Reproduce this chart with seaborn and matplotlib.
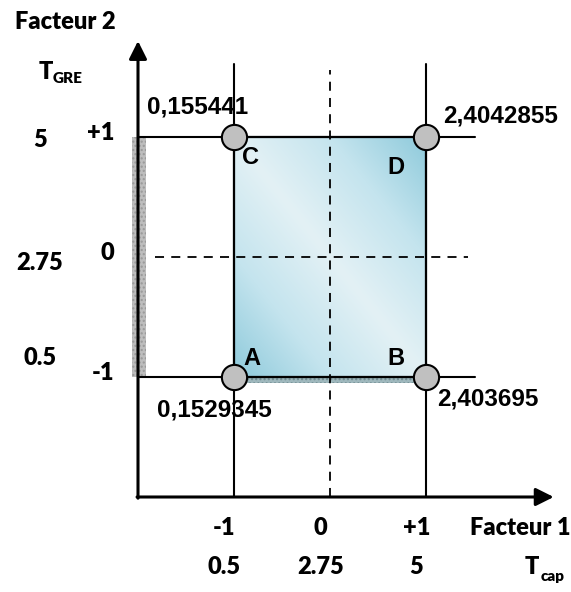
import numpy as np
import matplotlib
matplotlib.use("Agg")
import matplotlib.pyplot as plt
import seaborn as sns
import pandas as pd
from matplotlib.colors import LinearSegmentedColormap
from matplotlib.patches import Rectangle

# corner points of the 2^2 design
corner_labels = ["A", "B", "C", "D"]
factor1 = [-1, 1, -1, 1]
factor2 = [-1, -1, 1, 1]
responses = ["0,1529345", "2,403695", "0,155441", "2,4042855"]

# axis levels
coded_levels = [-1, 0, 1]
coded_labels = ["-1", "0", "+1"]
tcap_labels = ["0.5", "2.75", "5"]
tgre_labels = ["0.5", "2.75", "5"]

sns.set_theme(style="white")
plt.rcParams['font.family'] = ['Liberation Sans', 'DejaVu Sans']
plt.rcParams['text.color'] = 'black'

fig = plt.figure(figsize=(5.71, 5.92), dpi=100)
ax = fig.add_axes([0, 0, 1, 1])
ax.set_xlim(-3.4375, 2.5104)
ax.set_ylim(-2.7917, 2.1417)
ax.axis("off")

# gradient fill of the experimental domain (dark at A and D)
u, v = np.meshgrid(np.linspace(-1, 1, 200), np.linspace(-1, 1, 200))
shade = np.abs(u + v) / 2
cmap = LinearSegmentedColormap.from_list("dom", ["#e3f1f5", "#c4e4ee", "#8ecadb"])
ax.imshow(shade, extent=(-1, 1, -1, 1), origin="lower", cmap=cmap,
          aspect="auto", zorder=1, interpolation="bilinear")

# grey hatched bands
ax.add_patch(Rectangle((-2.0625, -1), 0.145, 2, facecolor="#bdbdbd",
                       edgecolor="#999999", hatch="....", lw=0, zorder=2))
ax.add_patch(Rectangle((-1, -1.05), 2, 0.05, facecolor="#9fb8bd",
                       edgecolor="#6f8a90", hatch="....", lw=0, zorder=2))

# domain border
ax.add_patch(Rectangle((-1, -1), 2, 2, fill=False, edgecolor="#1a2a30",
                       lw=1.6, zorder=3))

# level lines
for lv in [-1, 1]:
    ax.plot([lv, lv], [-2, 1.61], color="black", lw=1.5, zorder=3)
    ax.plot([-2, 1.51], [lv, lv], color="black", lw=1.5, zorder=3)
ax.plot([0, 0], [-2, 1.56], color="black", lw=1.3, ls=(0, (5, 4)), zorder=3)
ax.plot([-1.82, 1.44], [0, 0], color="black", lw=1.3, ls=(0, (5, 4)), zorder=3)

# axes with arrows
arrow = dict(arrowstyle="-|>", lw=2.2, color="black", mutation_scale=27,
             shrinkA=0, shrinkB=0)
ax.annotate("", xy=(-2, 1.80), xytext=(-2, -2.01), arrowprops=arrow, zorder=4)
ax.annotate("", xy=(2.33, -2), xytext=(-2.01, -2), arrowprops=arrow, zorder=4)

# corner points
df = pd.DataFrame({"f1": factor1, "f2": factor2, "label": corner_labels,
                   "resp": responses})
sns.scatterplot(data=df, x="f1", y="f2", s=330, color="#c0c0c0",
                edgecolor="black", linewidth=1.5, zorder=5, ax=ax, legend=False)

letter_off = {"A": (0.19, 0.15), "B": (-0.31, 0.15),
              "C": (0.17, -0.17), "D": (-0.31, -0.25)}
resp_off = {"A": (-0.80, -0.275), "B": (0.115, -0.183),
            "C": (-0.91, 0.25), "D": (0.177, 0.175)}
for _, r in df.iterrows():
    dx, dy = letter_off[r["label"]]
    ax.text(r["f1"] + dx, r["f2"] + dy, r["label"], fontsize=17,
            fontweight="bold", color="black", ha="center", va="center", zorder=6)
    dx, dy = resp_off[r["label"]]
    ax.text(r["f1"] + dx, r["f2"] + dy, r["resp"], fontsize=17.5,
            fontweight="bold", color="black", ha="left", va="center", zorder=6)

lab = dict(fontsize=17, fontweight="heavy", color="black",
           family=["Lato", "DejaVu Sans"])
sub = dict(fontsize=11, fontweight="heavy", color="black",
           family=["Lato", "DejaVu Sans"])

# factor 1 (x) labels
for lv, cl, tl in zip(coded_levels, coded_labels, tcap_labels):
    ax.text(lv - 0.1, -2.258, cl, ha="center", va="center", **lab)
    ax.text(lv - 0.1, -2.583, tl, ha="center", va="center", **lab)
ax.text(1.98, -2.258, "Facteur 1", ha="center", va="center", **lab)
ax.text(2.03, -2.583, "T", ha="left", va="center", **lab)
ax.text(2.195, -2.66, "cap", ha="left", va="center", **sub)

# factor 2 (y) labels
gre_y = [-0.84, -0.05, 0.975]
for lv, cl, tl, gy in zip(coded_levels, coded_labels, tgre_labels, gre_y):
    ax.text(-2.25, lv + 0.03, cl, ha="right", va="center", **lab)
    ax.text(-3.02, gy, tl, ha="center", va="center", **lab)
ax.text(-2.76, 1.958, "Facteur 2", ha="center", va="center", **lab)
ax.text(-3.04, 1.54, "T", ha="left", va="center", **lab)
ax.text(-2.885, 1.49, "GRE", ha="left", va="center", **sub)

fig.savefig("out.png", dpi=100)
